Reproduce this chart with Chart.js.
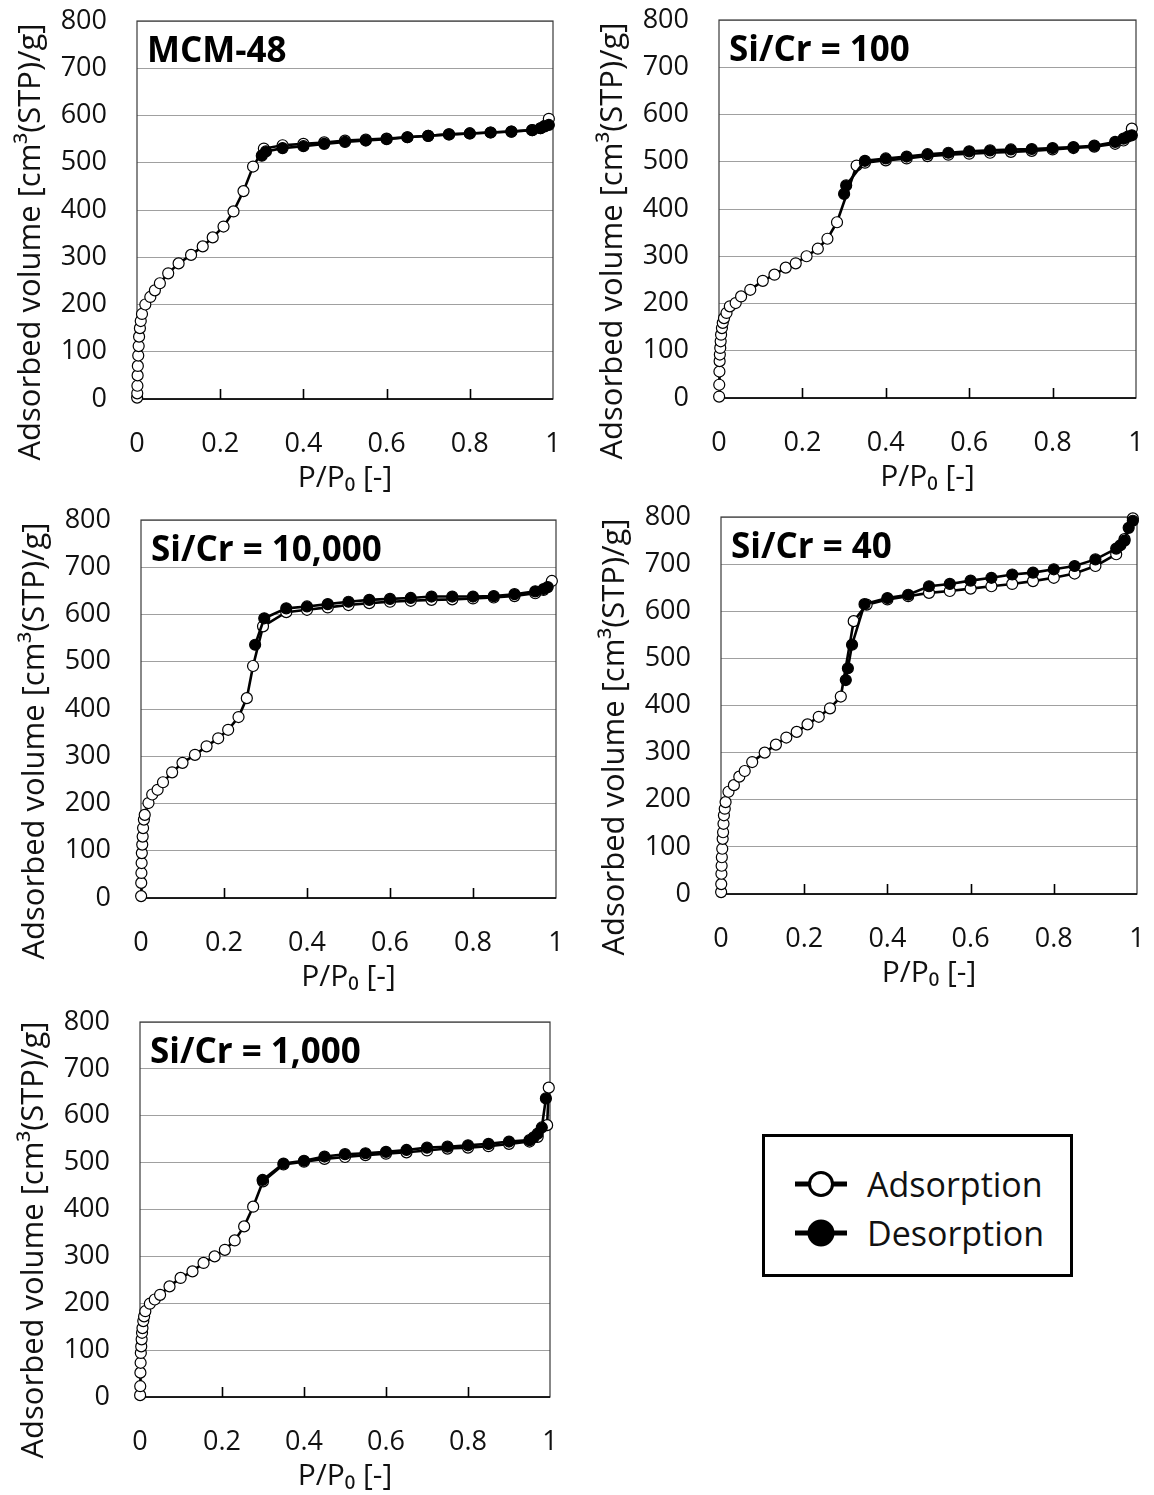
<!DOCTYPE html>
<html lang="en">
<head>
<meta charset="UTF-8">
<title>N2 sorption isotherms</title>
<script src="https://cdn.jsdelivr.net/npm/chart.js@4.4.0/dist/chart.umd.min.js"></script>
<style>
  body { margin: 0; background: #fff; }
  #page { position: relative; width: 1154px; height: 1495px; overflow: hidden; }
  #page canvas { position: absolute; }
  #legend {
    position: absolute; left: 762px; top: 1134px; width: 311px; height: 143px;
    box-sizing: border-box; border: 3px solid #000; background: #fff;
    font-family: 'Open Sans', sans-serif; font-size: 34px; color: #111;
  }
  #legend .row { position: absolute; left: 28px; height: 40px; display: flex; align-items: center; }
  #legend svg { margin-right: 18px; }
</style>
</head>
<body>
<div id="page">
  <canvas id="p1" width="578" height="500" style="left:0;top:0"></canvas>
  <canvas id="p2" width="576" height="500" style="left:578px;top:0"></canvas>
  <canvas id="p3" width="578" height="500" style="left:0;top:500px"></canvas>
  <canvas id="p4" width="576" height="500" style="left:578px;top:500px"></canvas>
  <canvas id="p5" width="578" height="495" style="left:0;top:1000px"></canvas>
  <div id="legend">
    <div class="row" style="top:27px">
      <svg width="56" height="30"><line x1="2" y1="15" x2="54" y2="15" stroke="#000" stroke-width="5"/><circle cx="28" cy="15" r="11.5" fill="#fff" stroke="#000" stroke-width="3"/></svg>
      <span>Adsorption</span>
    </div>
    <div class="row" style="top:76px">
      <svg width="56" height="30"><line x1="2" y1="15" x2="54" y2="15" stroke="#000" stroke-width="5"/><circle cx="28" cy="15" r="12.5" fill="#000" stroke="#000" stroke-width="2"/></svg>
      <span>Desorption</span>
    </div>
  </div>
</div>

<script>
  /* Axis ticks shared by every panel. */
  const xTicks = [0, 0.2, 0.4, 0.6, 0.8, 1]
  const xTickLabels = ['0', '0.2', '0.4', '0.6', '0.8', '1']
  const yTicks = [0, 100, 200, 300, 400, 500, 600, 700, 800]

  /* MCM-48 */
  const mcmAdsP = [0.0003, 0.0006, 0.001, 0.0015, 0.002, 0.003, 0.004, 0.005, 0.007, 0.009, 0.012, 0.02, 0.032, 0.043, 0.055, 0.075, 0.1, 0.13, 0.158, 0.182, 0.208, 0.232, 0.256, 0.279, 0.305, 0.35, 0.4, 0.45, 0.5, 0.55, 0.6, 0.65, 0.7, 0.75, 0.8, 0.85, 0.9, 0.95, 0.97, 0.98, 0.99]
  const mcmAdsV = [3, 12, 28, 50, 70, 92, 112, 132, 150, 165, 180, 200, 216, 230, 245, 266, 287, 305, 323, 342, 365, 397, 440, 492, 530, 537, 540, 543, 547, 549, 551, 554, 557, 560, 562, 564, 566, 569, 573, 578, 593]
  const mcmDesP = [0.99, 0.98, 0.97, 0.95, 0.9, 0.85, 0.8, 0.75, 0.7, 0.65, 0.6, 0.55, 0.5, 0.45, 0.4, 0.35, 0.31, 0.3]
  const mcmDesV = [580, 577, 573, 569, 566, 564, 562, 560, 557, 554, 550, 547, 544, 540, 535, 531, 524, 515]

  /* Si/Cr = 100 */
  const cr100AdsP = [0.0003, 0.0006, 0.001, 0.0015, 0.002, 0.003, 0.004, 0.005, 0.007, 0.009, 0.012, 0.018, 0.026, 0.04, 0.053, 0.075, 0.105, 0.133, 0.16, 0.184, 0.21, 0.237, 0.26, 0.283, 0.33, 0.35, 0.4, 0.45, 0.5, 0.55, 0.6, 0.65, 0.7, 0.75, 0.8, 0.85, 0.9, 0.95, 0.97, 0.99]
  const cr100AdsV = [3, 28, 56, 78, 92, 106, 120, 134, 148, 159, 169, 180, 194, 201, 215, 229, 248, 261, 276, 285, 300, 316, 337, 372, 492, 498, 503, 507, 512, 515, 517, 519, 521, 523, 526, 529, 532, 538, 545, 570]
  const cr100DesP = [0.99, 0.98, 0.97, 0.95, 0.9, 0.85, 0.8, 0.75, 0.7, 0.65, 0.6, 0.55, 0.5, 0.45, 0.4, 0.35, 0.305, 0.3]
  const cr100DesV = [556, 553, 549, 542, 534, 531, 529, 527, 526, 524, 522, 519, 516, 511, 507, 502, 450, 432]

  /* Si/Cr = 10,000 */
  const cr10000AdsP = [0.0003, 0.0006, 0.001, 0.0015, 0.002, 0.003, 0.004, 0.005, 0.007, 0.009, 0.018, 0.027, 0.04, 0.053, 0.075, 0.1, 0.13, 0.158, 0.186, 0.21, 0.235, 0.255, 0.27, 0.294, 0.35, 0.4, 0.45, 0.5, 0.55, 0.6, 0.65, 0.7, 0.75, 0.8, 0.85, 0.9, 0.95, 0.97, 0.99]
  const cr10000AdsV = [4, 32, 53, 74, 95, 113, 130, 148, 166, 176, 201, 219, 229, 245, 266, 286, 303, 321, 338, 356, 383, 423, 491, 575, 605, 610, 615, 620, 624, 627, 629, 631, 632, 634, 636, 639, 645, 652, 671]
  const cr10000DesP = [0.98, 0.97, 0.95, 0.9, 0.85, 0.8, 0.75, 0.7, 0.65, 0.6, 0.55, 0.5, 0.45, 0.4, 0.35, 0.297, 0.275]
  const cr10000DesV = [658, 654, 649, 643, 639, 638, 638, 638, 635, 633, 631, 627, 622, 617, 613, 592, 536]

  /* Si/Cr = 40 */
  const cr40AdsP = [0.0003, 0.0006, 0.001, 0.0015, 0.002, 0.003, 0.004, 0.005, 0.006, 0.007, 0.009, 0.011, 0.018, 0.031, 0.044, 0.057, 0.075, 0.105, 0.132, 0.157, 0.182, 0.208, 0.235, 0.262, 0.288, 0.319, 0.35, 0.4, 0.45, 0.5, 0.55, 0.6, 0.65, 0.7, 0.75, 0.8, 0.85, 0.9, 0.95, 0.97, 0.99]
  const cr40AdsV = [4, 21, 43, 60, 78, 96, 117, 131, 149, 167, 181, 195, 217, 231, 249, 261, 280, 300, 317, 332, 344, 360, 376, 394, 419, 579, 614, 625, 632, 639, 643, 648, 653, 658, 664, 671, 680, 696, 721, 753, 797]
  const cr40DesP = [0.99, 0.98, 0.97, 0.96, 0.95, 0.9, 0.85, 0.8, 0.75, 0.7, 0.65, 0.6, 0.55, 0.5, 0.45, 0.4, 0.345, 0.315, 0.305, 0.3]
  const cr40DesV = [792, 777, 750, 740, 733, 710, 696, 689, 682, 678, 671, 665, 658, 653, 635, 628, 615, 529, 479, 454]

  /* Si/Cr = 1,000 */
  const cr1000AdsP = [0.0003, 0.0006, 0.001, 0.0015, 0.002, 0.003, 0.004, 0.005, 0.006, 0.008, 0.01, 0.013, 0.024, 0.036, 0.049, 0.072, 0.099, 0.128, 0.155, 0.182, 0.207, 0.231, 0.254, 0.276, 0.3, 0.35, 0.4, 0.45, 0.5, 0.55, 0.6, 0.65, 0.7, 0.75, 0.8, 0.85, 0.9, 0.95, 0.97, 0.993, 0.997]
  const cr1000AdsV = [4, 23, 52, 73, 94, 108, 123, 137, 147, 162, 172, 183, 199, 208, 218, 236, 254, 268, 286, 300, 314, 334, 364, 406, 460, 496, 502, 508, 512, 516, 519, 522, 526, 530, 532, 535, 540, 545, 555, 580, 660]
  const cr1000DesP = [0.99, 0.98, 0.97, 0.96, 0.95, 0.9, 0.85, 0.8, 0.75, 0.7, 0.65, 0.6, 0.55, 0.5, 0.45, 0.4, 0.35, 0.299]
  const cr1000DesV = [637, 575, 562, 554, 548, 545, 540, 537, 534, 532, 527, 523, 520, 518, 513, 504, 498, 463]

  /* Canvas id, label and plot box (pixels inside each canvas). */
  const panels = [
    { id: 'p1', label: 'MCM-48', ads: [mcmAdsP, mcmAdsV], des: [mcmDesP, mcmDesV], box: { l: 137, t: 21, r: 553, b: 399 } },
    { id: 'p2', label: 'Si/Cr = 100', ads: [cr100AdsP, cr100AdsV], des: [cr100DesP, cr100DesV], box: { l: 141, t: 20, r: 558, b: 398 } },
    { id: 'p3', label: 'Si/Cr = 10,000', ads: [cr10000AdsP, cr10000AdsV], des: [cr10000DesP, cr10000DesV], box: { l: 141, t: 20, r: 556, b: 398 } },
    { id: 'p4', label: 'Si/Cr = 40', ads: [cr40AdsP, cr40AdsV], des: [cr40DesP, cr40DesV], box: { l: 143, t: 17, r: 559, b: 394 } },
    { id: 'p5', label: 'Si/Cr = 1,000', ads: [cr1000AdsP, cr1000AdsV], des: [cr1000DesP, cr1000DesV], box: { l: 140, t: 22, r: 550, b: 397 } },
  ]

  const FONT = "'Open Sans', sans-serif"
  Chart.defaults.font.family = FONT
  Chart.defaults.color = '#111'

  const yTitle = 'Adsorbed volume [cm³(STP)/g]'

  /* Pair up x and y arrays into points. */
  function points(xs, ys) {
    return xs.map((x, i) => ({ x: x, y: ys[i] }))
  }

  /* Frame, inner tick marks, y title and sample label. */
  const decor = {
    id: 'decor',
    beforeDatasetsDraw(chart, args, opts) {
      const { ctx, chartArea: a, scales: { x } } = chart
      ctx.save()
      ctx.strokeStyle = '#3a3a3a'
      ctx.lineWidth = 1.2
      ctx.strokeRect(a.left, a.top, a.right - a.left, a.bottom - a.top)
      ctx.strokeStyle = '#000'
      ctx.lineWidth = 1.6
      ctx.beginPath()
      ctx.moveTo(a.left, a.bottom)
      ctx.lineTo(a.right, a.bottom)
      xTicks.slice(1, -1).forEach(v => {
        const px = Math.round(x.getPixelForValue(v)) + 0.5
        ctx.moveTo(px, a.bottom)
        ctx.lineTo(px, a.bottom - 10)
      })
      ctx.stroke()
      ctx.restore()
    },
    afterDraw(chart, args, opts) {
      const { ctx, chartArea: a } = chart
      ctx.save()
      ctx.fillStyle = '#111'
      ctx.font = '31px ' + FONT
      ctx.translate(a.left - 106, a.bottom - 157)
      ctx.rotate(-Math.PI / 2)
      ctx.textAlign = 'center'
      ctx.textBaseline = 'middle'
      ctx.fillText(yTitle, 0, 0)
      ctx.restore()

      ctx.save()
      ctx.fillStyle = '#000'
      ctx.font = 'bold 35px ' + FONT
      ctx.textBaseline = 'middle'
      ctx.fillText(opts.label, a.left + 10, a.top + 31)
      ctx.restore()
    }
  }

  panels.forEach(p => {
    const canvas = document.getElementById(p.id)
    const W = canvas.width, H = canvas.height, b = p.box
    const chart = new Chart(canvas.getContext('2d'), {
      type: 'line',
      data: {
        datasets: [
          {
            label: 'Desorption',
            data: points(p.des[0], p.des[1]),
            order: 0,
            borderColor: '#000',
            borderWidth: 2.6,
            pointRadius: 5.5,
            pointBorderWidth: 1.2,
            pointBorderColor: '#000',
            pointBackgroundColor: '#000',
            clip: false,
          },
          {
            label: 'Adsorption',
            data: points(p.ads[0], p.ads[1]),
            order: 1,
            borderColor: '#000',
            borderWidth: 2.6,
            pointRadius: 5.5,
            pointBorderWidth: 1.2,
            pointBorderColor: '#000',
            pointBackgroundColor: '#fff',
            clip: false,
          },
        ]
      },
      options: {
        responsive: false,
        animation: false,
        layout: { padding: { left: 0, top: b.t, right: W - b.r, bottom: 0 } },
        plugins: {
          legend: { display: false },
          tooltip: { enabled: false },
          decor: { label: p.label },
        },
        scales: {
          x: {
            type: 'linear',
            min: 0,
            max: 1,
            afterBuildTicks: s => { s.ticks = xTicks.map(v => ({ value: v })) },
            afterFit: s => { s.height = H - b.b },
            // invisible tick marks push the labels down without widening the side padding
            grid: { display: false, drawTicks: true, tickLength: 29 },
            border: { display: false },
            ticks: { font: { size: 27 }, padding: 0, color: '#111', callback: (v, i) => xTickLabels[i] },
            title: { display: true, text: 'P/P₀ [-]', font: { size: 30 }, padding: { top: 0, bottom: H - b.b - 79 - 18 } },
          },
          y: {
            min: 0,
            max: 800,
            afterBuildTicks: s => { s.ticks = yTicks.map(v => ({ value: v })) },
            afterFit: s => { s.width = b.l },
            grid: { color: '#a0a0a0', lineWidth: 1, drawTicks: true, tickLength: 30, tickColor: 'rgba(0,0,0,0)' },
            border: { display: false },
            ticks: { font: { size: 27 }, padding: 0, color: '#111' },
          }
        }
      },
      plugins: [decor]
    })

    /* Any leftover label overflow is taken back out of the padding. */
    const a = chart.chartArea
    const pad = chart.options.layout.padding
    if (a.top !== b.t || a.right !== b.r) {
      pad.top = Math.max(0, pad.top - (a.top - b.t))
      pad.right = Math.max(0, pad.right - (b.r - a.right))
      chart.update('none')
    }
  })
</script>
</body>
</html>
